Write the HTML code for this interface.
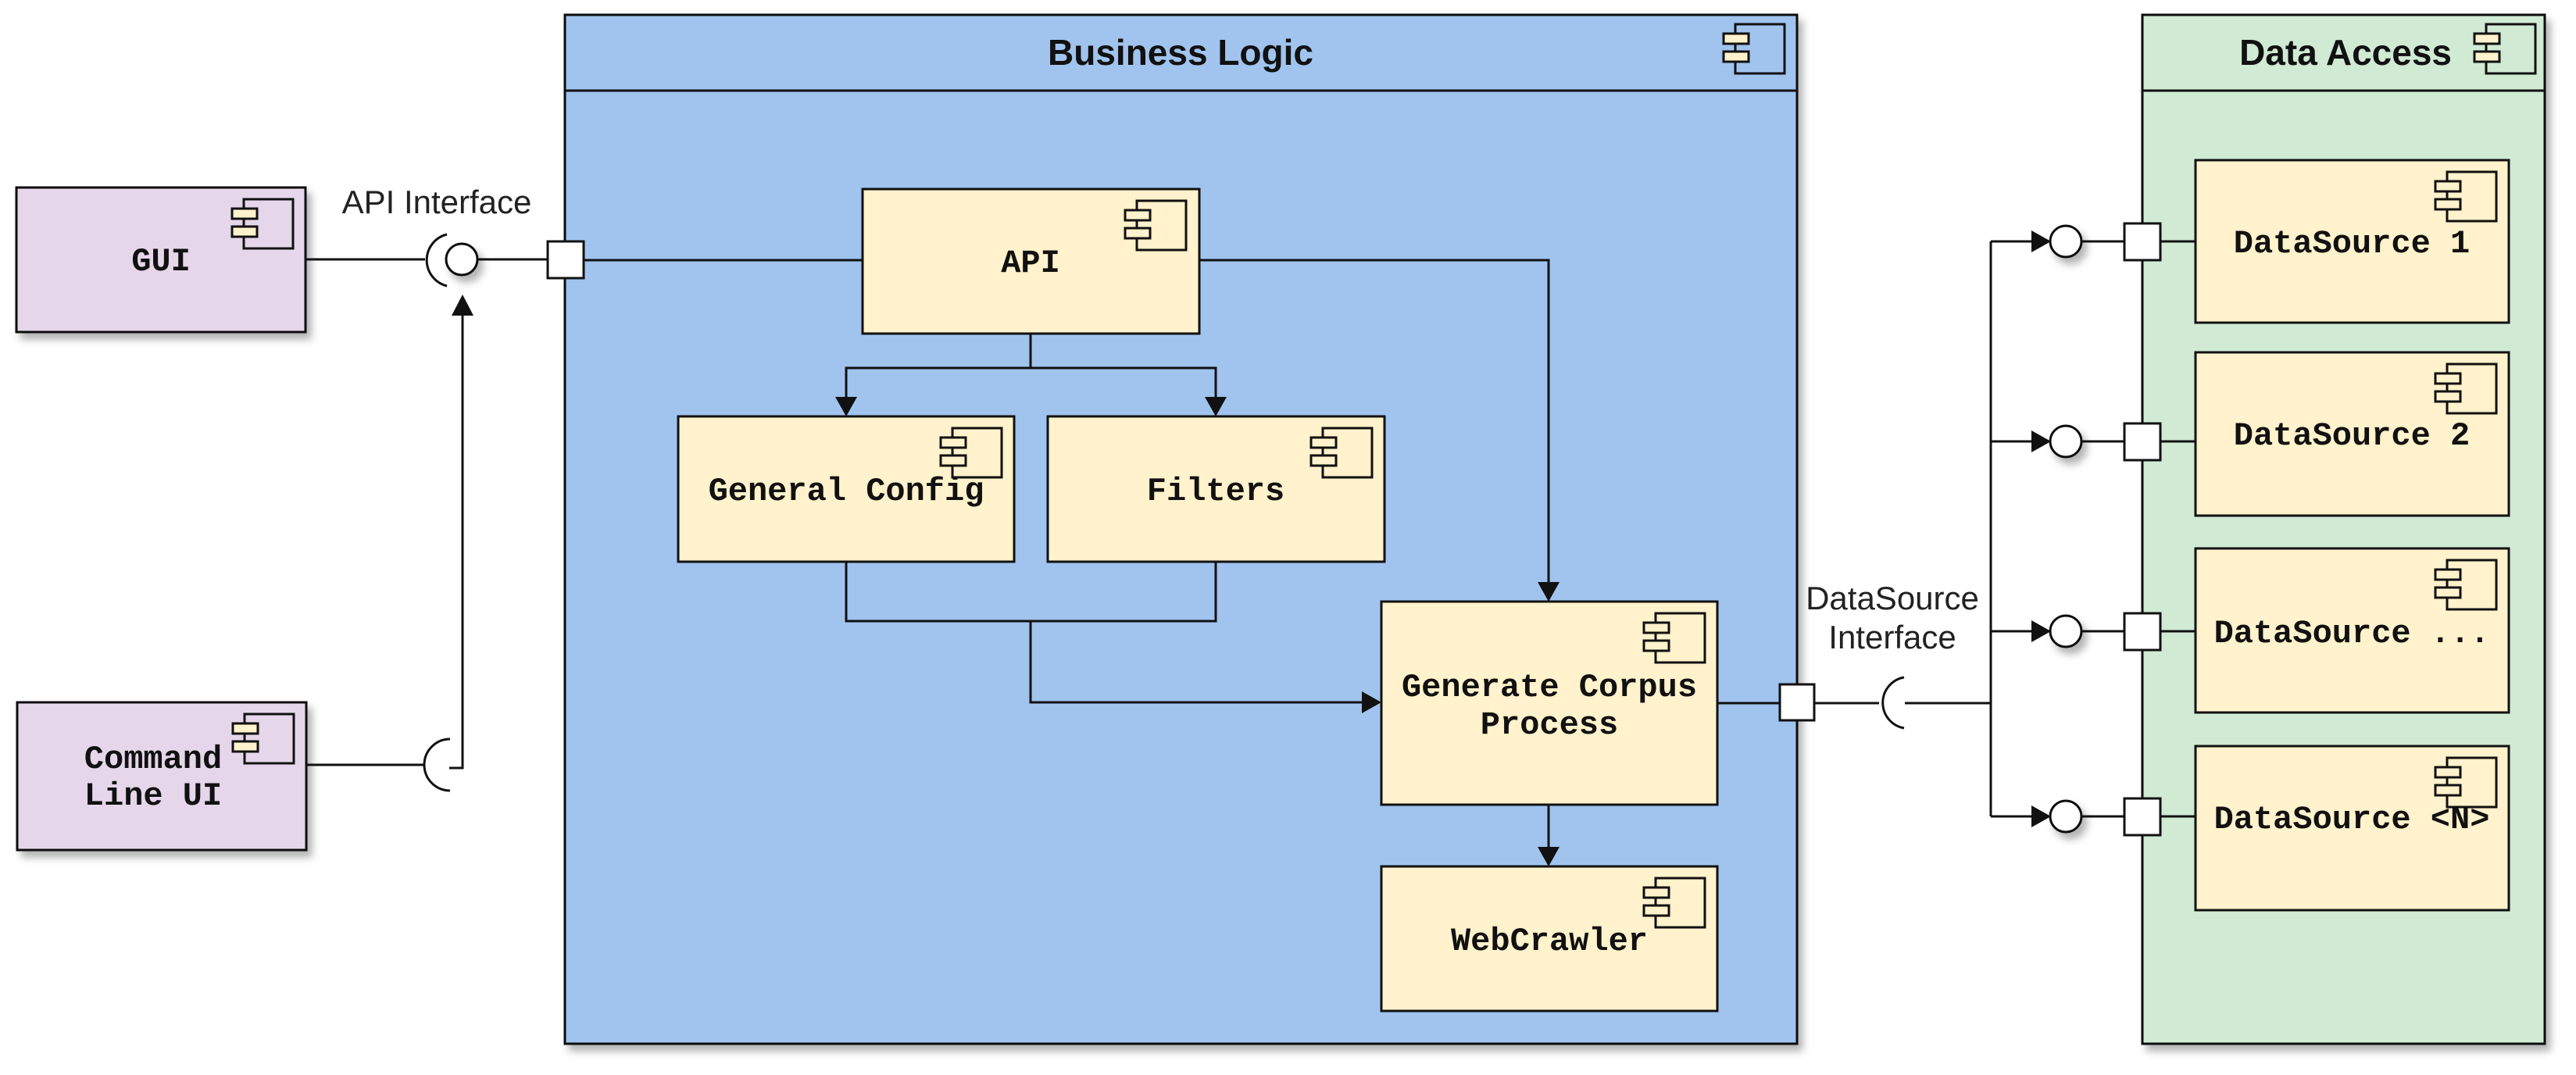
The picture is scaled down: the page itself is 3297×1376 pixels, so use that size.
<!DOCTYPE html>
<html><head><meta charset="utf-8"><style>
html,body{margin:0;padding:0;background:#fff;}
svg{display:block;}
.mono{font-family:"Liberation Mono","DejaVu Sans Mono",monospace;font-weight:bold;font-size:42px;fill:#111;}
.title{font-family:"Liberation Sans",Arial,sans-serif;font-weight:bold;font-size:46px;fill:#111;}
.lbl{font-family:"Liberation Sans",Arial,sans-serif;font-size:42px;fill:#222;}
</style></head><body>
<svg width="3297" height="1376" viewBox="0 0 3297 1376" xmlns="http://www.w3.org/2000/svg">
<defs>
<filter id="sh" x="-10%" y="-10%" width="130%" height="130%">
<feDropShadow dx="6" dy="8" stdDeviation="5" flood-color="#000" flood-opacity="0.3"/>
</filter>
<symbol id="ic" overflow="visible">
<rect x="15" y="0" width="63" height="63" fill="none" stroke="#111" stroke-width="3"/>
<rect x="0" y="12" width="32" height="13" fill="#fff2cc" stroke="#111" stroke-width="3"/>
<rect x="0" y="35" width="32" height="13" fill="#fff2cc" stroke="#111" stroke-width="3"/>
</symbol>
</defs>

<g filter="url(#sh)">
<rect x="723" y="19" width="1577" height="1317" fill="#a0c4ee" stroke="#111" stroke-width="3"/>
<rect x="2742" y="19" width="515" height="1317" fill="#d0ead4" stroke="#111" stroke-width="3"/>
</g>
<line x1="723" y1="116" x2="2300" y2="116" stroke="#111" stroke-width="3"/>
<line x1="2742" y1="116" x2="3257" y2="116" stroke="#111" stroke-width="3"/>
<text class="title" x="1511" y="83" text-anchor="middle">Business Logic</text>
<text class="title" x="3138" y="83" text-anchor="end">Data Access</text>
<g fill="none"><use href="#ic" x="2206" y="31"/><use href="#ic" x="3167" y="31"/></g>

<g filter="url(#sh)">
<rect x="21" y="240" width="370" height="185" fill="#e6d6ea" stroke="#111" stroke-width="3"/>
<rect x="22" y="899" width="370" height="189" fill="#e6d6ea" stroke="#111" stroke-width="3"/>
</g>
<use href="#ic" x="297" y="255"/>
<use href="#ic" x="298" y="914"/>
<text class="mono" x="206" y="346" text-anchor="middle">GUI</text>
<text class="mono" x="196" y="983" text-anchor="middle">Command</text>
<text class="mono" x="196" y="1030" text-anchor="middle">Line UI</text>

<g fill="#fff2cc" stroke="#111" stroke-width="3">
<rect x="1104" y="242" width="431" height="185"/>
<rect x="868" y="533" width="430" height="186"/>
<rect x="1341" y="533" width="431" height="186"/>
<rect x="1768" y="770" width="430" height="260"/>
<rect x="1768" y="1109" width="430" height="185"/>
<rect x="2810" y="205" width="401" height="208"/>
<rect x="2810" y="451" width="401" height="209"/>
<rect x="2810" y="702" width="401" height="210"/>
<rect x="2810" y="955" width="401" height="210"/>
</g>
<use href="#ic" x="1440" y="257"/>
<use href="#ic" x="1204" y="548"/>
<use href="#ic" x="1678" y="548"/>
<use href="#ic" x="2104" y="785"/>
<use href="#ic" x="2104" y="1124"/>
<use href="#ic" x="3117" y="220"/>
<use href="#ic" x="3117" y="466"/>
<use href="#ic" x="3117" y="717"/>
<use href="#ic" x="3117" y="970"/>
<text class="mono" x="1319" y="348" text-anchor="middle">API</text>
<text class="mono" x="1083" y="640" text-anchor="middle">General Config</text>
<text class="mono" x="1556" y="640" text-anchor="middle">Filters</text>
<text class="mono" x="1983" y="891" text-anchor="middle">Generate Corpus</text>
<text class="mono" x="1983" y="939" text-anchor="middle">Process</text>
<text class="mono" x="1983" y="1216" text-anchor="middle">WebCrawler</text>
<text class="mono" x="3010" y="323" text-anchor="middle">DataSource 1</text>
<text class="mono" x="3010" y="569" text-anchor="middle">DataSource 2</text>
<text class="mono" x="3010" y="822" text-anchor="middle">DataSource ...</text>
<text class="mono" x="3010" y="1060" text-anchor="middle">DataSource &lt;N&gt;</text>

<g fill="none" stroke="#111" stroke-width="3">
<line x1="391" y1="332" x2="544" y2="332"/>
<line x1="611" y1="332" x2="701" y2="332"/>
<line x1="748" y1="333" x2="1104" y2="333"/>
<line x1="392" y1="979" x2="542" y2="979"/>
<polyline points="575,983 592,983 592,400"/>
<polyline points="1535,333 1982,333 1982,745"/>
<polyline points="1319,427 1319,471"/>
<polyline points="1083,508 1083,471 1556,471 1556,508"/>
<polyline points="1083,719 1083,795 1556,795 1556,719"/>
<polyline points="1319,795 1319,899 1743,899"/>
<line x1="1982" y1="1030" x2="1982" y2="1084"/>
<line x1="2198" y1="900" x2="2278" y2="900"/>
<line x1="2321" y1="900" x2="2405" y2="900"/>
<line x1="2438" y1="900" x2="2548" y2="900"/>
<line x1="2548" y1="309" x2="2548" y2="1045"/>
<line x1="2548" y1="309" x2="2600" y2="309"/>
<line x1="2548" y1="565" x2="2600" y2="565"/>
<line x1="2548" y1="808" x2="2600" y2="808"/>
<line x1="2548" y1="1045" x2="2600" y2="1045"/>
<line x1="2664" y1="309" x2="2810" y2="309"/>
<line x1="2664" y1="565" x2="2810" y2="565"/>
<line x1="2664" y1="808" x2="2810" y2="808"/>
<line x1="2664" y1="1045" x2="2810" y2="1045"/>
<path d="M572,300 A34,34 0 0,0 572,366"/>
<path d="M576,946 A33,33 0 0,0 576,1012"/>
<path d="M2437,867 A33,33 0 0,0 2437,932"/>
</g>
<g fill="#111">
<polygon points="592,377 578,404 606,404"/>
<polygon points="1083,533 1069,508 1097,508"/>
<polygon points="1556,533 1542,508 1570,508"/>
<polygon points="1982,770 1968,745 1996,745"/>
<polygon points="1768,899 1743,885 1743,913"/>
<polygon points="1982,1109 1968,1084 1996,1084"/>
<polygon points="2625,309 2600,295 2600,323"/>
<polygon points="2625,565 2600,551 2600,579"/>
<polygon points="2625,808 2600,794 2600,822"/>
<polygon points="2625,1045 2600,1031 2600,1059"/>
</g>
<g fill="#fff" stroke="#111" stroke-width="3" filter="url(#sh)">
<circle cx="591" cy="332" r="20"/>
<circle cx="2644" cy="309" r="20"/>
<circle cx="2644" cy="565" r="20"/>
<circle cx="2644" cy="808" r="20"/>
<circle cx="2644" cy="1045" r="20"/>
</g>
<g fill="#fff" stroke="#111" stroke-width="3">
<rect x="701" y="309" width="46" height="47"/>
<rect x="2278" y="876" width="44" height="46"/>
<rect x="2719" y="286" width="46" height="47"/>
<rect x="2719" y="542" width="46" height="47"/>
<rect x="2719" y="785" width="46" height="47"/>
<rect x="2719" y="1022" width="46" height="47"/>
</g>
<text class="lbl" x="559" y="273" text-anchor="middle">API Interface</text>
<text class="lbl" x="2422" y="780" text-anchor="middle">DataSource</text>
<text class="lbl" x="2422" y="830" text-anchor="middle">Interface</text>
</svg>
</body></html>
